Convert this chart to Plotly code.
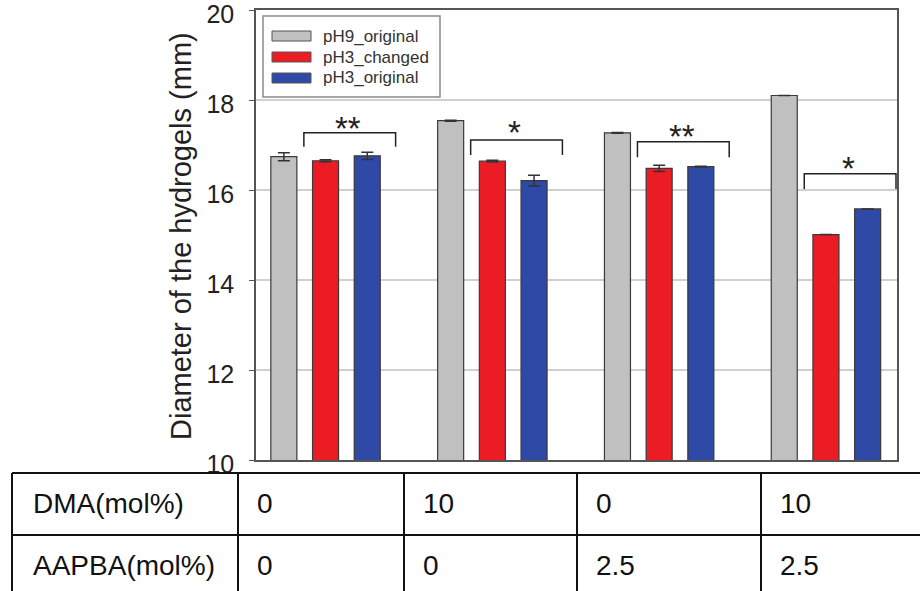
import plotly.graph_objects as go

# ---------------- data ----------------
groups = [0, 1, 2, 3]
series_names = ["pH9_original", "pH3_changed", "pH3_original"]
ph9_original = [16.74, 17.54, 17.27, 18.10]
ph9_original_err = [0.09, 0.01, 0.01, 0.0]
ph3_changed = [16.65, 16.64, 16.48, 15.01]
ph3_changed_err = [0.02, 0.02, 0.07, 0.0]
ph3_original = [16.76, 16.21, 16.52, 15.58]
ph3_original_err = [0.08, 0.12, 0.01, 0.0]

significance = ["**", "*", "**", "*"]
bracket_top = [17.27, 17.11, 17.07, 16.36]
bracket_leg = [16.96, 16.78, 16.73, 16.02]
star_y = [17.49, 17.42, 17.33, 16.62]

row_labels = ["DMA(mol%)", "AAPBA(mol%)"]
dma = ["0", "10", "0", "10"]
aapba = ["0", "0", "2.5", "2.5"]

y_ticks = [10, 12, 14, 16, 18, 20]

# ---------------- style ----------------
colors = ["#c0c0c0", "#ec1c24", "#2f4aa6"]
W, H = 920, 591
L, R, T, B = 256, 897, 10, 460  # plot area in px


def px_x(p):
    return (p - L) / (R - L)


def px_y(p):
    return (B - p) / (B - T)


fig = go.Figure()
values = [ph9_original, ph3_changed, ph3_original]
errors = [ph9_original_err, ph3_changed_err, ph3_original_err]
for name, vals, errs, col in zip(series_names, values, errors, colors):
    fig.add_trace(go.Bar(
        x=groups, y=vals, name=name,
        marker=dict(color=col, line=dict(color="#3a3a3a", width=1.2)),
        error_y=dict(type="data", array=errs, visible=True,
                     color="#333333", thickness=1.5, width=6),
        showlegend=False,
    ))

shapes = []
annotations = []

# significance brackets
for g, top, leg, sig, sy in zip(groups, bracket_top, bracket_leg, significance, star_y):
    x0, x1 = g - 0.13, g + 0.42
    shapes.append(dict(type="path", xref="x", yref="y",
                       path=f"M {x0} {leg} L {x0} {top} L {x1} {top} L {x1} {leg}",
                       line=dict(color="#222222", width=1.5)))
    annotations.append(dict(x=(x0 + x1) / 2 - 0.01, y=sy, xref="x", yref="y", text=sig,
                            showarrow=False, yshift=-6,
                            font=dict(family="Arial", size=33, color="#222222")))

# custom legend
shapes.append(dict(type="rect", xref="paper", yref="paper",
                   x0=px_x(263), x1=px_x(440), y0=px_y(97), y1=px_y(16),
                   line=dict(color="#8a8a8a", width=1.5), fillcolor="white"))
for i, (name, col) in enumerate(zip(series_names, colors)):
    cy = 36 + 21 * i
    shapes.append(dict(type="rect", xref="paper", yref="paper",
                       x0=px_x(272), x1=px_x(311), y0=px_y(cy + 5), y1=px_y(cy - 5),
                       line=dict(color="#555555", width=1), fillcolor=col))
    annotations.append(dict(x=px_x(321), y=px_y(cy), xref="paper", yref="paper",
                            text=name, showarrow=False, xanchor="left", yanchor="middle",
                            font=dict(family="Arial", size=17, color="#333333")))

# table below the chart
tbl_top, tbl_mid, tbl_bot = 473, 535, 600
col_lines = [12, 238, 404, 577, 761]
for yy in (tbl_top, tbl_mid):
    shapes.append(dict(type="line", xref="paper", yref="paper",
                       x0=px_x(12), x1=px_x(925), y0=px_y(yy), y1=px_y(yy),
                       line=dict(color="#111111", width=2)))
for xx in col_lines:
    shapes.append(dict(type="line", xref="paper", yref="paper",
                       x0=px_x(xx), x1=px_x(xx), y0=px_y(tbl_top), y1=px_y(tbl_bot),
                       line=dict(color="#111111", width=2)))
row_centers = [503, 565]
for lab, cy, vals in zip(row_labels, row_centers, [dma, aapba]):
    annotations.append(dict(x=px_x(31), y=px_y(cy), xref="paper", yref="paper",
                            text=lab, showarrow=False, xanchor="left", yanchor="middle",
                            font=dict(family="Arial", size=28, color="#111111")))
    for xx, v in zip(col_lines[1:], vals):
        annotations.append(dict(x=px_x(xx + 17), y=px_y(cy), xref="paper", yref="paper",
                                text=v, showarrow=False, xanchor="left", yanchor="middle",
                                font=dict(family="Arial", size=28, color="#111111")))

# y-axis title
annotations.append(dict(x=px_x(181), y=px_y(236), xref="paper", yref="paper",
                        text="Diameter of the hydrogels (mm)", textangle=-90,
                        showarrow=False, xanchor="center", yanchor="middle",
                        font=dict(family="Arial", size=29, color="#222222")))

fig.update_layout(
    width=W, height=H,
    margin=dict(l=L, r=W - R, t=T, b=H - B, autoexpand=False),
    paper_bgcolor="white", plot_bgcolor="white",
    barmode="group", bargap=0.25, bargroupgap=0.376,
    xaxis=dict(range=[-0.417, 3.426], showticklabels=False, ticks="",
               showgrid=False, zeroline=False, showline=True, mirror=True,
               linecolor="#555555", linewidth=1.5, automargin=False),
    yaxis=dict(range=[10, 20], tickvals=y_ticks, ticks="outside", ticklen=5,
               tickcolor="#555555", showgrid=True, gridcolor="#d0d0d0", gridwidth=1.5,
               zeroline=False, showline=True, mirror=True, automargin=False,
               ticklabeloverflow="allow", ticklabelshift=4, ticklabelstandoff=10,
               linecolor="#555555", linewidth=1.5,
               tickfont=dict(family="Arial", size=25, color="#222222")),
    shapes=shapes, annotations=annotations,
    font=dict(family="Arial"),
)

fig.write_html("out.html", config={"displayModeBar": False},
               post_script="document.body.style.margin='0';document.body.style.overflow='hidden';")
